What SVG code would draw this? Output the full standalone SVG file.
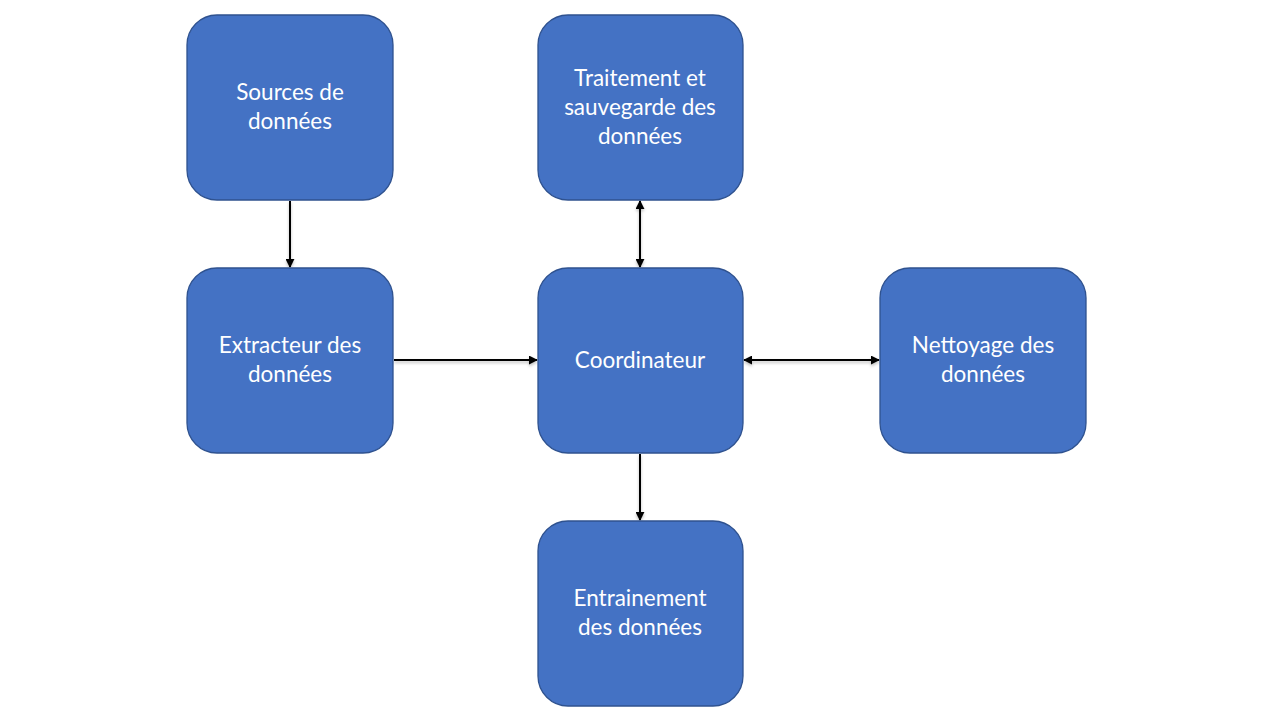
<svg xmlns="http://www.w3.org/2000/svg" width="1280" height="720" viewBox="0 0 1280 720">
<style>
.n{fill:#4472C4;stroke:#2F528F;stroke-width:1.3}
.t{fill:#fff;font-family:Lato,"Open Sans",sans-serif;font-size:22.5px;text-anchor:middle}
.c{stroke:#000;stroke-width:2;fill:none}
</style>
<defs>
<marker id="a" viewBox="0 0 10 10" refX="9" refY="5" markerWidth="4.5" markerHeight="4.5" orient="auto-start-reverse"><path d="M0,0 L10,5 L0,10 z" fill="#000"/></marker>
<filter id="s" x="-20%" y="-20%" width="140%" height="140%"><feDropShadow dx="0" dy="2" stdDeviation="1.5" flood-color="#000" flood-opacity="0.25"/></filter>
</defs>
<rect width="1280" height="720" fill="#fff"/>
<g id="connectors" filter="url(#s)">
<line class="c" x1="290" y1="201" x2="290" y2="267" marker-end="url(#a)"/>
<line class="c" x1="640" y1="201" x2="640" y2="267" marker-start="url(#a)" marker-end="url(#a)"/>
<line class="c" x1="394" y1="360" x2="537" y2="360" marker-end="url(#a)"/>
<line class="c" x1="744" y1="360" x2="879" y2="360" marker-start="url(#a)" marker-end="url(#a)"/>
<line class="c" x1="640" y1="454" x2="640" y2="520" marker-end="url(#a)"/>
</g>
<g id="sources"><rect class="n" x="187" y="15" width="206" height="185" rx="30"/><text class="t" x="290" y="100">Sources de</text><text class="t" x="290" y="129">données</text></g>
<g id="traitement"><rect class="n" x="538" y="15" width="205" height="185" rx="30"/><text class="t" x="640" y="86">Traitement et</text><text class="t" x="640" y="115">sauvegarde des</text><text class="t" x="640" y="144">données</text></g>
<g id="extracteur"><rect class="n" x="187" y="268" width="206" height="185" rx="30"/><text class="t" x="290" y="353">Extracteur des</text><text class="t" x="290" y="382">données</text></g>
<g id="coordinateur"><rect class="n" x="538" y="268" width="205" height="185" rx="30"/><text class="t" x="640" y="368">Coordinateur</text></g>
<g id="nettoyage"><rect class="n" x="880" y="268" width="206" height="185" rx="30"/><text class="t" x="983" y="353">Nettoyage des</text><text class="t" x="983" y="382">données</text></g>
<g id="entrainement"><rect class="n" x="538" y="521" width="205" height="185" rx="30"/><text class="t" x="640" y="606">Entrainement</text><text class="t" x="640" y="635">des données</text></g>
</svg>
